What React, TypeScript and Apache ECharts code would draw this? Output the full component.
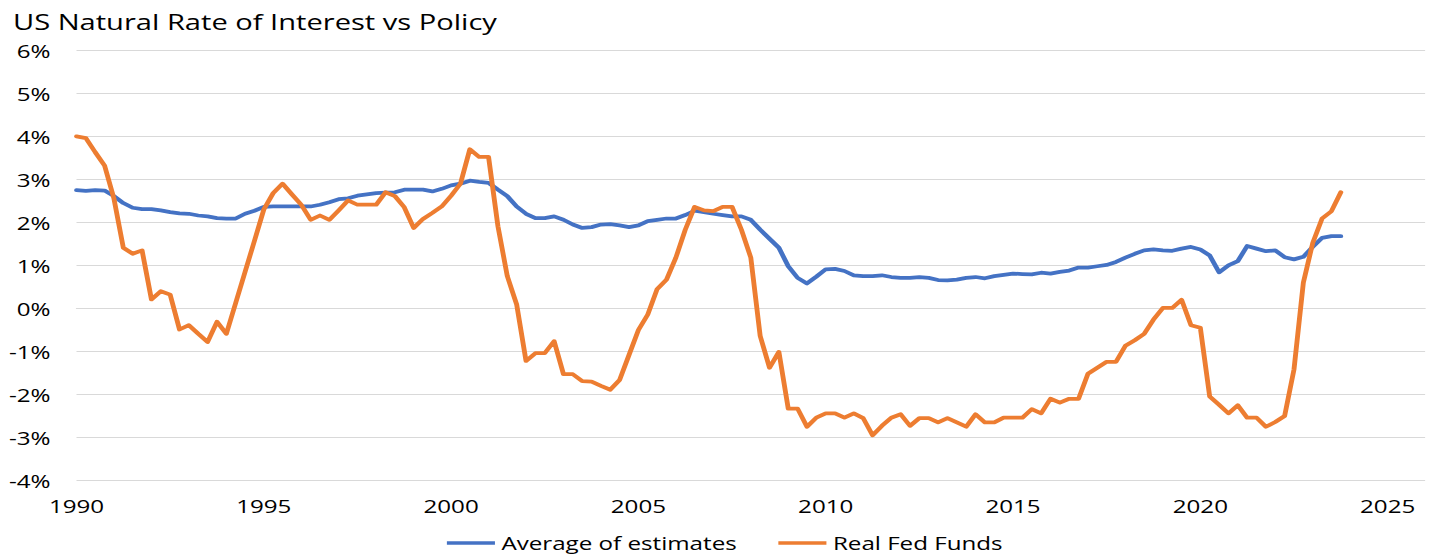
import React, { useEffect, useRef } from "react";
import * as echarts from "echarts";

// ---- data (quarterly, first point = Q1 1990) ----
const startYear = 1990;
const quartersPerYear = 4;
const seriesNames = ["Average of estimates", "Real Fed Funds"];
const chartTitle = "US Natural Rate of Interest vs Policy";

const averageOfEstimates = [
  2.75, 2.73, 2.75, 2.74, 2.61, 2.45, 2.34, 2.31, 2.31, 2.28,
  2.24, 2.21, 2.2, 2.16, 2.14, 2.1, 2.09, 2.09, 2.2, 2.27,
  2.36, 2.37, 2.37, 2.37, 2.37, 2.37, 2.41, 2.47, 2.54, 2.56,
  2.62, 2.65, 2.68, 2.69, 2.7, 2.76, 2.76, 2.76, 2.72, 2.78,
  2.86, 2.9, 2.97, 2.94, 2.92, 2.76, 2.61, 2.37, 2.2, 2.1,
  2.1, 2.14, 2.06, 1.95, 1.87, 1.89, 1.95, 1.96, 1.93, 1.89,
  1.93, 2.03, 2.06, 2.09, 2.09, 2.17, 2.27, 2.24, 2.2, 2.17,
  2.14, 2.14, 2.06, 1.83, 1.62, 1.41, 0.98, 0.71, 0.58, 0.74,
  0.91, 0.92, 0.87, 0.77, 0.75, 0.75, 0.77, 0.73, 0.71, 0.71,
  0.73, 0.71, 0.66, 0.65, 0.67, 0.71, 0.73, 0.7, 0.75, 0.78,
  0.81, 0.8, 0.79, 0.83, 0.81, 0.85, 0.88, 0.95, 0.95, 0.98,
  1.01, 1.08, 1.18, 1.27, 1.35, 1.37, 1.35, 1.34, 1.39, 1.43,
  1.37, 1.23, 0.84, 1.0, 1.1, 1.45, 1.39, 1.33, 1.35, 1.19,
  1.14, 1.2, 1.43, 1.64, 1.68, 1.68,
];

const realFedFunds = [
  4.0, 3.96, 3.63, 3.32, 2.55, 1.41, 1.27, 1.35, 0.21, 0.4,
  0.32, -0.49, -0.39, -0.59, -0.78, -0.31, -0.59, 0.13, 0.85, 1.57,
  2.3, 2.68, 2.9, 2.65, 2.41, 2.06, 2.16, 2.06, 2.28, 2.51,
  2.41, 2.41, 2.41, 2.7, 2.61, 2.35, 1.87, 2.08, 2.22, 2.37,
  2.62, 2.9, 3.7, 3.52, 3.52, 1.91, 0.75, 0.09, -1.22, -1.04,
  -1.04, -0.76, -1.53, -1.53, -1.69, -1.7, -1.8, -1.89, -1.66, -1.08,
  -0.5, -0.14, 0.45, 0.67, 1.18, 1.83, 2.36, 2.28, 2.26, 2.36,
  2.36, 1.83, 1.18, -0.64, -1.38, -1.01, -2.33, -2.33, -2.75, -2.54,
  -2.44, -2.44, -2.54, -2.44, -2.55, -2.95, -2.73, -2.54, -2.46, -2.73,
  -2.55, -2.55, -2.65, -2.55, -2.65, -2.75, -2.46, -2.65, -2.65, -2.54,
  -2.54, -2.54, -2.34, -2.44, -2.1, -2.19, -2.1, -2.1, -1.52, -1.38,
  -1.24, -1.24, -0.87, -0.74, -0.59, -0.26, 0.01, 0.01, 0.2, -0.39,
  -0.45, -2.05, -2.24, -2.44, -2.25, -2.54, -2.54, -2.75, -2.64, -2.5,
  -1.42, 0.6, 1.52, 2.09, 2.26, 2.7,
];

const xMin = 1990;
const xMax = 2026;
const xStep = 5;
const yMin = -4;
const yMax = 6;
const yStep = 1;

const toPoints = (vals: number[]) =>
  vals.map((v, i) => [startYear + i / quartersPerYear, v]);

// the reference is horizontally stretched; render narrower and stretch
const OUT_W = 1429;
const H = 556;
const W = 1100;
const SX = OUT_W / W;

const FONT = "'Open Sans', 'Noto Sans', sans-serif";

export default function App() {
  const ref = useRef<HTMLDivElement>(null);

  useEffect(() => {
    document.body.style.margin = "0";
    document.body.style.overflow = "hidden";
    if (!ref.current) return;
    const chart = echarts.init(ref.current, null, { renderer: "svg" });
    chart.setOption({
      animation: false,
      backgroundColor: "#ffffff",
      title: {
        text: chartTitle,
        left: 5,
        top: 5,
        textStyle: {
          fontFamily: FONT,
          fontSize: 22.4,
          fontWeight: "normal",
          color: "#000000",
        },
      },
      legend: {
        data: seriesNames,
        icon: "rect",
        left: 344,
        top: 532,
        padding: 0,
        itemWidth: 37,
        itemHeight: 3.5,
        itemGap: 32,
        textStyle: {
          fontFamily: FONT,
          fontSize: 18.6,
          lineHeight: 22,
          color: "#000000",
        },
      },
      grid: {
        left: 76.5 / SX,
        right: 0,
        top: 50.3,
        bottom: H - 480.5,
        containLabel: false,
      },
      xAxis: {
        type: "value",
        min: xMin,
        max: xMax,
        interval: xStep,
        axisLine: { show: true, lineStyle: { color: "#D9D9D9", width: 1 } },
        axisTick: { show: false },
        splitLine: { show: false },
        axisLabel: {
          margin: 16,
          fontFamily: FONT,
          fontSize: 18.6,
          color: "#000000",
          formatter: (v: number) => (v % xStep === 0 ? String(v) : ""),
        },
      },
      yAxis: {
        type: "value",
        min: yMin,
        max: yMax,
        interval: yStep,
        axisLine: { show: false },
        axisTick: { show: false },
        splitLine: { show: true, lineStyle: { color: "#D9D9D9", width: 1 } },
        axisLabel: {
          margin: 20,
          fontFamily: FONT,
          fontSize: 18.6,
          color: "#000000",
          formatter: (v: number) => `${v}%`,
        },
      },
      series: [
        {
          name: seriesNames[0],
          type: "line",
          data: toPoints(averageOfEstimates),
          symbol: "none",
          showSymbol: false,
          color: "#4472C4",
          lineStyle: { width: 3.75, color: "#4472C4", join: "round", cap: "round" },
          z: 2,
        },
        {
          name: seriesNames[1],
          type: "line",
          data: toPoints(realFedFunds),
          symbol: "none",
          showSymbol: false,
          color: "#ED7D31",
          lineStyle: { width: 3.75, color: "#ED7D31", join: "round", cap: "round" },
          z: 3,
        },
      ],
    });
    return () => chart.dispose();
  }, []);

  return (
    <div
      ref={ref}
      style={{
        width: W,
        height: H,
        transform: `scaleX(${SX})`,
        transformOrigin: "0 0",
      }}
    />
  );
}
